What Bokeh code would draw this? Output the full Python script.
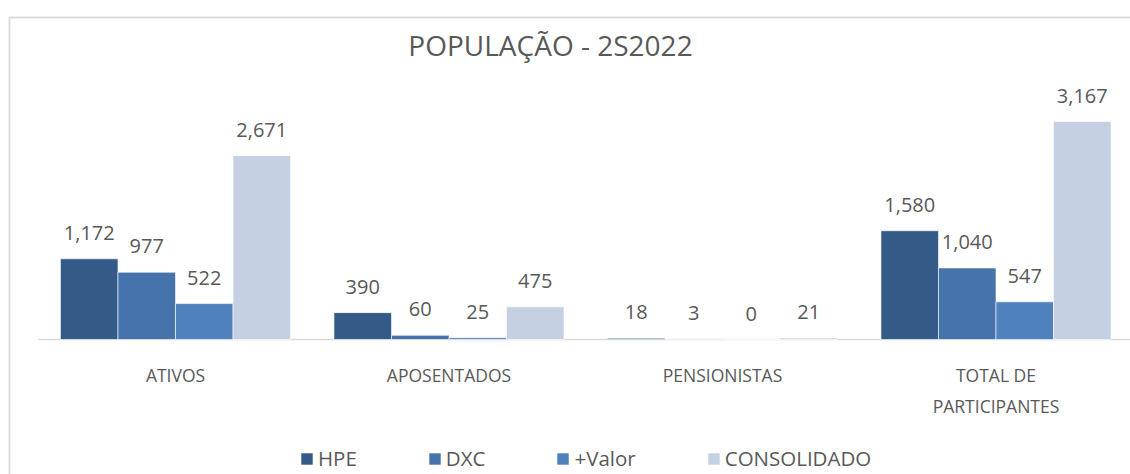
from bokeh.plotting import figure
from bokeh.models import (Range1d, ColumnDataSource, Legend, LegendItem,
                          Label, BoxAnnotation)
from bokeh.transform import dodge
from bokeh.core.properties import value
from bokeh.embed import file_html
from bokeh.resources import INLINE
import numpy as np

# ---- data ----
title = "POPULAÇÃO - 2S2022"
categories = ["ATIVOS", "APOSENTADOS", "PENSIONISTAS", "TOTAL DE\nPARTICIPANTES"]
series = ["HPE", "DXC", "+Valor", "CONSOLIDADO"]
hpe = [1172, 390, 18, 1580]
dxc = [977, 60, 3, 1040]
mais_valor = [522, 25, 0, 547]
consolidado = [2671, 475, 21, 3167]
colors = ["#345A88", "#4673AB", "#4F81BD", "#C6D0E3"]

# ---- layout constants (pixels) ----
W, H = 1130, 474
group_px = 273.5          # width of one category slot
first_center_px = 175     # centre of first category
base_px = 339             # baseline (value 0) from the top
y_px_per_unit = 218 / 3167.0
bar_w = 0.2103

TEXT = "#595959"
FONT = "Open Sans"

x_start = -first_center_px / group_px
x_end = (W - first_center_px) / group_px
y_end = base_px / y_px_per_unit
y_start = -(H - base_px) / y_px_per_unit

values = [hpe, dxc, mais_valor, consolidado]
data = {"x": np.arange(len(categories)), "cat": categories,
        "zero": np.zeros(len(categories))}
keys = ["s0", "s1", "s2", "s3"]
for k, v in zip(keys, values):
    data[k] = v
    data[k + "_lbl"] = ["{:,}".format(n) for n in v]
src = ColumnDataSource(data)

p = figure(width=W, height=H, x_range=Range1d(x_start, x_end),
           y_range=Range1d(y_start, y_end), title=None,
           x_axis_location=None, y_axis_location=None,
           toolbar_location=None, output_backend="svg",
           min_border_left=0, min_border_right=0, min_border_top=0, min_border_bottom=0)
p.outline_line_color = None
p.grid.visible = False
p.background_fill_color = "white"
p.border_fill_color = "white"

# baseline (category axis line)
p.segment(x0=[-0.5], y0=[0], x1=[x_end], y1=[0], line_color="#D9D9D9", line_width=1.5)

items = []
for j, (k, s, c) in enumerate(zip(keys, series, colors)):
    off = (j - 1.5) * bar_w
    r = p.vbar(x=dodge("x", off), top=k, width=bar_w, bottom=0, source=src,
               fill_color=c, line_color="white", line_width=0.6)
    p.text(x=dodge("x", off), y=k, text=k + "_lbl", source=src,
           text_align="center", text_baseline="alphabetic", y_offset=-26,
           text_font=value(FONT), text_font_size="20px", text_color=TEXT)
    items.append(LegendItem(label=s, renderers=[r]))

# category labels
p.text(x="x", y="zero", text="cat", source=src, text_align="center",
       text_baseline="top", y_offset=23, text_line_height=1.3,
       text_font=value(FONT), text_font_size="17.5px", text_color=TEXT)

p.add_layout(Label(x=(550 - first_center_px) / group_px, y=(base_px - 44) / y_px_per_unit,
                   text=title, text_align="center", text_baseline="middle",
                   text_font=FONT, text_font_size="28px", text_color=TEXT))

legend = Legend(items=items, orientation="horizontal", glyph_width=15, glyph_height=15,
                label_standoff=4, spacing=70, padding=0, margin=0,
                border_line_color=None, background_fill_alpha=0,
                label_text_font=FONT, label_text_font_size="20.5px", label_text_color=TEXT,
                location=(299, 2))
p.add_layout(legend)

# chart-area border (left and top visible, right/bottom beyond the picture)
p.add_layout(BoxAnnotation(left=9, right=W + 20, top=17, bottom=H + 20,
                           left_units="canvas", right_units="canvas",
                           top_units="canvas", bottom_units="canvas",
                           fill_alpha=0, line_color="#8F8F8F", line_width=2))

open("out.html", "w").write(file_html(p, INLINE))
